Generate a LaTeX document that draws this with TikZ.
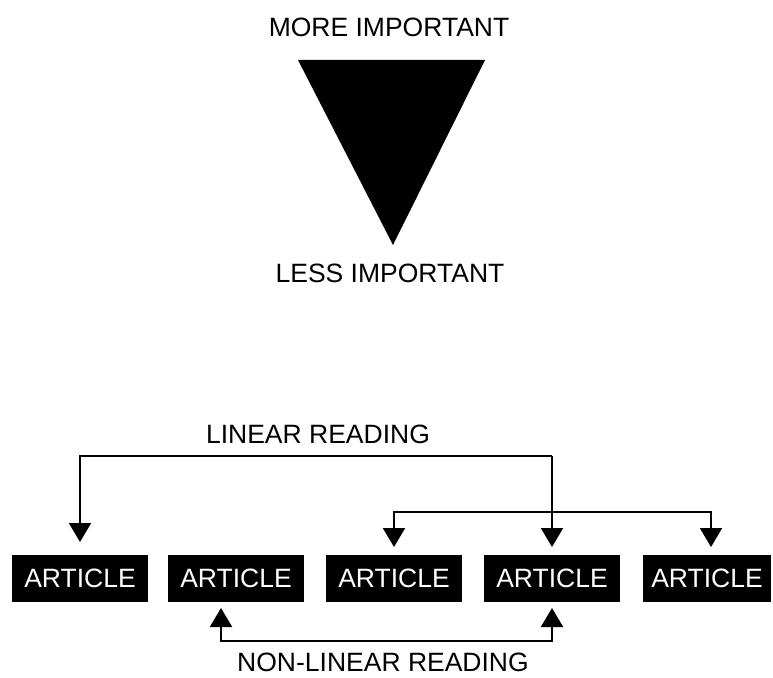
\documentclass[tikz,border=0pt]{standalone}
\usepackage{fontspec}
\setmainfont{Liberation Sans}
\usetikzlibrary{arrows.meta}
\begin{document}
\begin{tikzpicture}[x=1pt,y=-1pt,
  label/.style={font=\fontsize{26.5}{30}\selectfont, inner sep=0pt, anchor=base},
  article/.style={fill=black, text=white, font=\fontsize{26.5}{30}\selectfont,
    minimum width=136pt, minimum height=47pt, inner sep=0pt},
  link/.style={line width=2pt, -{Triangle[width=22pt,length=19pt]}}]
\useasboundingbox (0,0) rectangle (773,677);

% importance scale
\node[label] (more) at (389,37) {MORE IMPORTANT};
\fill (298,60) -- (485,60) -- (393,245) -- cycle;
\node[label] (less) at (390,282) {LESS IMPORTANT};

% articles
\node[article] (a1) at (80,578.5) {ARTICLE};
\node[article] (a2) at (236,578.5) {ARTICLE};
\node[article] (a3) at (394,578.5) {ARTICLE};
\node[article] (a4) at (552,578.5) {ARTICLE};
\node[article, minimum width=128pt] (a5) at (707,578.5) {ARTICLE};

% linear reading
\node[label] (lin) at (318,443) {LINEAR READING};
\coordinate (l1) at (80,456);
\coordinate (l2) at (552,456);
\draw[link] (l2) -- (l1) -- (80,542);
\draw[link] (l2) -- (552,547);

% branch from article four
\coordinate (b1) at (394,512);
\coordinate (b2) at (711,512);
\draw[link] (b1) -- (b2) -- (711,547);
\draw[link] (b2) -- (b1) -- (394,547);

% non-linear reading
\node[label] (nonlin) at (383,671) {NON-LINEAR READING};
\coordinate (n1) at (221,641);
\coordinate (n2) at (552,641);
\draw[link] (n2) -- (n1) -- (221,608);
\draw[link] (n1) -- (n2) -- (552,608);
\end{tikzpicture}
\end{document}
